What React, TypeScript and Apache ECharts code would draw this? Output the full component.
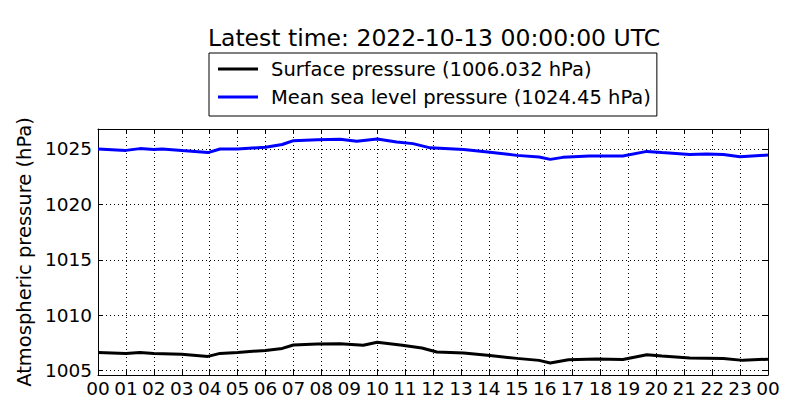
import { useEffect, useRef } from 'react';
import * as echarts from 'echarts';

const FONT = '"DejaVu Sans", sans-serif';

// hours since 00 UTC, and pressure readings (hPa)
const mslHours = [0, 1, 1.5, 2, 2.3, 3, 3.94, 4.37, 5, 6, 6.6, 7, 7.85, 8.67, 9.27, 10, 10.7, 11.28, 11.9, 13.1, 14.04, 15, 15.8, 16.2, 16.65, 17.6, 18.8, 19.66, 20.2, 21.2, 21.8, 22.4, 23, 24];
const mslValues = [1025.0, 1024.87, 1025.03, 1024.94, 1025.0, 1024.85, 1024.67, 1025.0, 1025.0, 1025.15, 1025.4, 1025.75, 1025.84, 1025.87, 1025.7, 1025.9, 1025.63, 1025.48, 1025.1, 1024.94, 1024.7, 1024.42, 1024.28, 1024.06, 1024.24, 1024.37, 1024.37, 1024.78, 1024.67, 1024.5, 1024.55, 1024.49, 1024.3, 1024.45];

const surfHours = [0, 1, 1.5, 2, 3, 3.94, 4.37, 5, 6, 6.6, 7, 7.85, 8.67, 9.5, 10, 10.9, 11.6, 12.14, 13.1, 14.04, 15, 15.8, 16.2, 16.85, 17.85, 18.8, 19.66, 20.2, 21.2, 22.4, 23.1, 24];
const surfValues = [1006.64, 1006.53, 1006.62, 1006.55, 1006.47, 1006.28, 1006.55, 1006.64, 1006.82, 1007.0, 1007.31, 1007.4, 1007.43, 1007.28, 1007.55, 1007.28, 1007.04, 1006.68, 1006.59, 1006.35, 1006.1, 1005.92, 1005.69, 1005.98, 1006.04, 1006.0, 1006.43, 1006.31, 1006.14, 1006.08, 1005.92, 1006.03];

const yTicks = [1005, 1010, 1015, 1020, 1025];

const surfName = 'Surface pressure (1006.032 hPa)';
const mslName = 'Mean sea level pressure (1024.45 hPa)';

function Chart() {
  const ref = useRef<HTMLDivElement | null>(null);

  useEffect(() => {
    if (!ref.current) return;
    const chart = echarts.init(ref.current, undefined, { renderer: 'svg' });

    const dotted = { show: true, lineStyle: { color: '#000', width: 1, type: [1, 3] as any } };
    const line = { show: true, onZero: false, lineStyle: { color: '#000', width: 1 } };
    const tick = { show: true, inside: true, length: 5, lineStyle: { color: '#000', width: 1 } };
    const label = { color: '#000', fontSize: 18.5, fontFamily: FONT };

    chart.setOption({
      animation: false,
      textStyle: { fontFamily: FONT },
      title: {
        text: 'Latest time: 2022-10-13 00:00:00 UTC',
        left: 429,
        textAlign: 'center',
        top: 21,
        textStyle: { fontSize: 23.5, fontWeight: 'normal', color: '#000', fontFamily: FONT },
      },
      legend: {
        orient: 'vertical',
        left: 209,
        top: 53,
        padding: [6, 6, 9, 9],
        borderColor: '#000',
        borderWidth: 1,
        borderRadius: 0,
        itemWidth: 40,
        itemHeight: 3,
        itemGap: 8,
        icon: 'rect',
        textStyle: { fontSize: 19.5, lineHeight: 20, color: '#000', fontFamily: FONT, padding: [0, 0, 0, 8] },
        data: [surfName, mslName],
      },
      grid: { left: 98, right: 32, top: 129, bottom: 45 },
      xAxis: [
        {
          type: 'value',
          min: 0,
          max: 24,
          interval: 1,
          position: 'bottom',
          axisLine: line,
          axisTick: tick,
          axisLabel: {
            ...label,
            margin: 4,
            formatter: (v: number) => String(v % 24).padStart(2, '0'),
          },
          splitLine: dotted,
        },
        {
          type: 'value',
          min: 0,
          max: 24,
          interval: 1,
          position: 'top',
          axisLine: line,
          axisTick: tick,
          axisLabel: { show: false },
          splitLine: { show: false },
        },
      ],
      yAxis: [
        {
          type: 'value',
          min: 1004.6,
          max: 1026.8,
          position: 'left',
          name: 'Atmospheric pressure (hPa)',
          nameLocation: 'middle',
          nameGap: 62,
          nameTextStyle: { fontSize: 19.5, color: '#000', fontFamily: FONT },
          axisLine: line,
          axisTick: { ...tick, customValues: yTicks },
          axisLabel: { ...label, margin: 6, customValues: yTicks, formatter: (v: number) => String(v) },
          splitLine: dotted,
        },
        {
          type: 'value',
          min: 1004.6,
          max: 1026.8,
          position: 'right',
          axisLine: line,
          axisTick: { ...tick, customValues: yTicks },
          axisLabel: { show: false, customValues: yTicks },
          splitLine: { show: false },
        },
      ],
      series: [
        {
          name: surfName,
          type: 'line',
          symbol: 'none',
          color: '#000',
          lineStyle: { color: '#000', width: 3 },
          data: surfHours.map((h, i) => [h, surfValues[i]]),
        },
        {
          name: mslName,
          type: 'line',
          symbol: 'none',
          color: '#0000ff',
          lineStyle: { color: '#0000ff', width: 3 },
          data: mslHours.map((h, i) => [h, mslValues[i]]),
        },
      ],
    });

    return () => {
      chart.dispose();
    };
  }, []);

  return <div ref={ref} style={{ width: 800, height: 420 }} />;
}

export default function App() {
  return (
    <div style={{ position: 'absolute', left: 0, top: 0, width: 800, height: 420, background: '#fff' }}>
      <Chart />
    </div>
  );
}
